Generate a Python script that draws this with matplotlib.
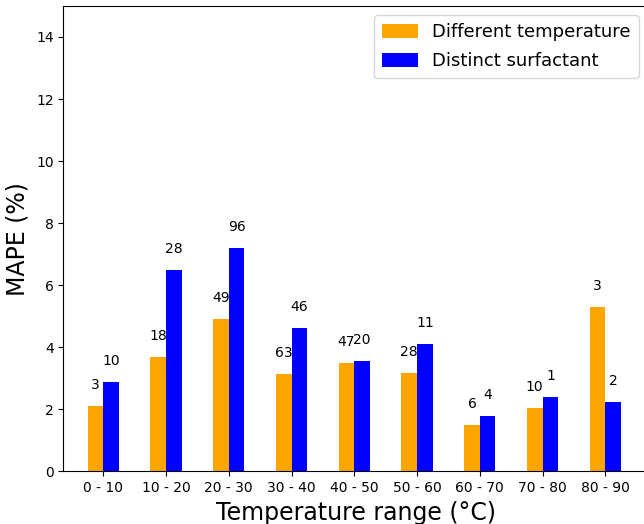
import matplotlib
matplotlib.use("Agg")
from matplotlib import pyplot as plt
import numpy as np

ranges = ['0 - 10', '10 - 20', '20 - 30', '30 - 40', '40 - 50',
          '50 - 60', '60 - 70', '70 - 80', '80 - 90']
mape_temp = [2.11, 3.69, 4.91, 3.14, 3.49, 3.17, 1.49, 2.04, 5.30]
mape_surf = [2.88, 6.49, 7.20, 4.62, 3.56, 4.11, 1.78, 2.40, 2.24]
count_temp = [3, 18, 49, 63, 47, 28, 6, 10, 3]
count_surf = [10, 28, 96, 46, 20, 11, 4, 1, 2]

x = np.arange(len(ranges))
w = 0.25

fig = plt.figure(figsize=(6.44, 5.24), dpi=100)
ax = fig.add_axes([0.0986, 0.1006, 0.9076, 0.888])

b1 = ax.bar(x - w/2, mape_temp, w, color='orange', label='Different temperature')
b2 = ax.bar(x + w/2, mape_surf, w, color='blue', label='Distinct surfactant')

# sample counts on top of the bars
for i in range(len(x)):
    ax.text(x[i] - w/2, mape_temp[i] + 0.45, str(count_temp[i]), ha='center', va='bottom', fontsize=10)
    ax.text(x[i] + w/2, mape_surf[i] + 0.45, str(count_surf[i]), ha='center', va='bottom', fontsize=10)

ax.set_xticks(x)
ax.set_xticklabels(ranges)
ax.set_xlim(-0.634, 8.68)
ax.set_ylim(0, 15)
ax.set_yticks(np.arange(0, 15, 2))
ax.set_xlabel("Temperature range (°C)", fontsize=17)
ax.set_ylabel("MAPE (%)", fontsize=17, labelpad=5)
ax.legend(loc='upper right', fontsize=13, borderpad=0.45, labelspacing=0.6, handleheight=0.8)

plt.savefig("out.png", dpi=100)
